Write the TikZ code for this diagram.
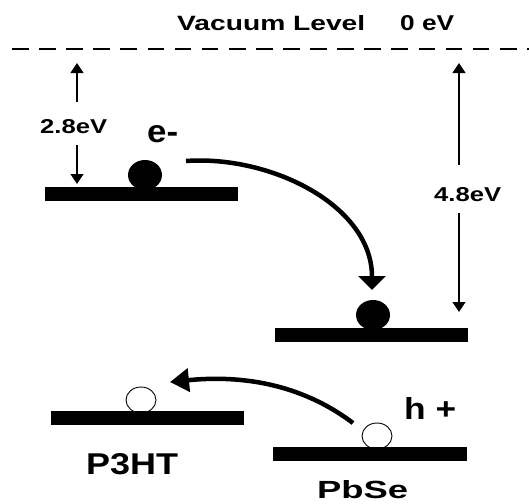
\documentclass[tikz,border=0pt]{standalone}
\usepackage{fontspec}
\setmainfont{Liberation Sans}
\usepackage{graphicx}
\usetikzlibrary{arrows.meta,shapes.geometric}
\tikzset{
  lvl/.style={fill=black, draw=none, inner sep=0pt, minimum height=14pt},
  lbl/.style={inner sep=0pt, anchor=north west, font=\bfseries},
  edot/.style={ellipse, fill=black, draw=none, inner sep=0pt, minimum width=34pt, minimum height=30pt},
  hdot/.style={ellipse, fill=white, draw=black, line width=0.9pt, inner sep=0pt, minimum width=30pt, minimum height=26pt},
  thinarrow/.style={line width=1.2pt, -{Triangle[length=10pt,width=13pt]}},
  bigarrowe/.style={line width=4.5pt, -{Triangle[length=14pt,width=27pt]}},
  bigarrowh/.style={line width=4.5pt, -{Triangle[length=19pt,width=23pt]}},
}
\begin{document}
\begin{tikzpicture}[x=1pt,y=-1pt]
\useasboundingbox (0,0) rectangle (529,503);
% vacuum level
\coordinate (vl) at (12,49);
\coordinate (vr) at (529,49);
\draw[line width=1.2pt, dash pattern=on 16.7pt off 10.4pt] (vl) -- (vr);
\node[lbl] (vac) at (177,15) {\resizebox{188pt}{15pt}{Vacuum Level}};
\node[lbl] (zero) at (400,15) {\resizebox{54pt}{15pt}{0 eV}};
% particles (behind bars)
\node[edot] (e1) at (145,175) {};
\node[edot] (e2) at (373,315) {};
\node[hdot] (h1) at (141,400) {};
\node[hdot] (h2) at (377,436) {};
% levels
\node[lvl, minimum width=193pt] (p3lumo) at (141.5,194) {};
\node[lvl, minimum width=193pt] (pblumo) at (371.5,335) {};
\node[lvl, minimum width=193pt] (p3homo) at (147.5,417.5) {};
\node[lvl, minimum width=194pt] (pbhomo) at (370,453.5) {};
% energy arrows
\coordinate (a1s) at (77,102);
\coordinate (a1e) at (77,63);
\coordinate (a2s) at (77,145);
\coordinate (a2e) at (77,184);
\draw[thinarrow] (a1s) -- (a1e);
\draw[thinarrow] (a2s) -- (a2e);
\coordinate (b1s) at (459,165);
\coordinate (b1e) at (459,63);
\coordinate (b2s) at (459,213);
\coordinate (b2e) at (459,312);
\draw[thinarrow] (b1s) -- (b1e);
\draw[thinarrow] (b2s) -- (b2e);
\node[lbl] (l28) at (40,119) {\resizebox{67pt}{14pt}{2.8eV}};
\node[lbl] (l48) at (434,187) {\resizebox{67pt}{14pt}{4.8eV}};
% transfer arrows
\coordinate (es) at (186,161);
\coordinate (ee) at (372,290);
\draw[bigarrowe] (es) .. controls (270,155) and (372,205) .. (ee);
\coordinate (hs) at (353,423);
\coordinate (he) at (170,382);
\draw[bigarrowh] (hs) .. controls (300,383) and (240,375) .. (he);
% labels
\node[lbl] (em) at (147,125) {\resizebox{31pt}{17pt}{e-}};
\node[lbl] (hp) at (404,397) {\resizebox{52pt}{22pt}{h +}};
\node[lbl] (p3) at (86,453) {\resizebox{92pt}{21pt}{P3HT}};
\node[lbl] (pb) at (317,480) {\resizebox{91pt}{18pt}{PbSe}};
\end{tikzpicture}
\end{document}
